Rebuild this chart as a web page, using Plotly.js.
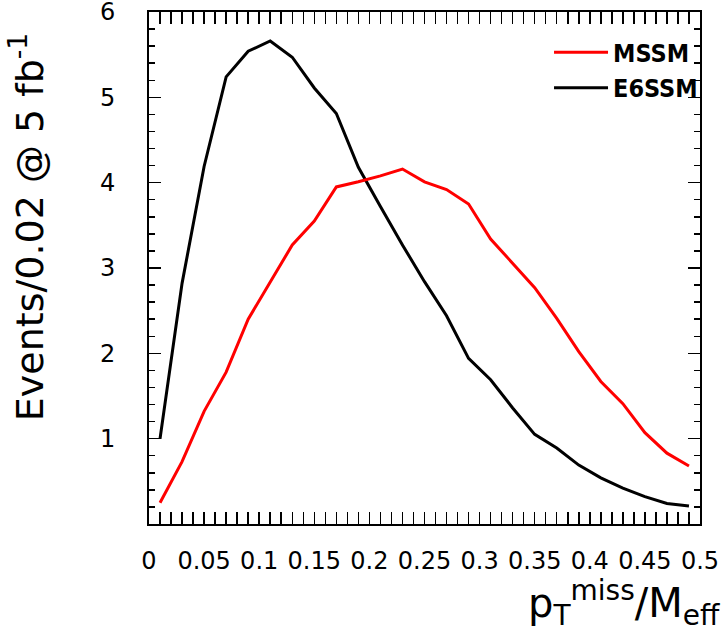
<!DOCTYPE html>
<html>
<head>
<meta charset="utf-8">
<script src="https://cdn.plot.ly/plotly-3.0.1.min.js"></script>
<style>html,body{margin:0;padding:0;background:#fff;}#chart{width:721px;height:631px;}</style>
</head>
<body>
<div id="chart"></div>
<script>
// Bin centres (p_T^miss / M_eff)
const binCentres = [0.01,0.03,0.05,0.07,0.09,0.11,0.13,0.15,0.17,0.19,0.21,0.23,0.25,
                    0.27,0.29,0.31,0.33,0.35,0.37,0.39,0.41,0.43,0.45,0.47,0.49];
const mssm  = [0.25,0.73,1.32,1.78,2.40,2.84,3.27,3.55,3.95,4.01,4.08,4.16,4.01,
               3.92,3.75,3.34,3.06,2.77,2.41,2.02,1.67,1.41,1.07,0.83,0.68];
const e6ssm = [1.00,2.82,4.19,5.24,5.54,5.66,5.47,5.11,4.81,4.18,3.72,3.27,2.84,
               2.44,1.94,1.69,1.36,1.05,0.89,0.69,0.54,0.42,0.32,0.24,0.21];
const seriesNames = ["MSSM","E6SSM"];
const yTickVals = [1,2,3,4,5,6];
const yTickText = ["1","2","3","4","5","6"];
const yRange = [0, 6];

const traces = [
  {x: binCentres, y: mssm, name: seriesNames[0], type: "scatter", mode: "lines",
   yaxis: "y2", line: {color: "#ff0000", width: 3}},
  {x: binCentres, y: e6ssm, name: seriesNames[1], type: "scatter", mode: "lines",
   line: {color: "#000000", width: 3}}
];

const tickFont = {family: "DejaVu Sans", size: 24, color: "#000"};
const axisCommon = {
  showgrid: false, zeroline: false, showline: true, linecolor: "#000", linewidth: 2,
  mirror: "allticks", ticks: "inside", ticklen: 12, tickwidth: 1.5, tickcolor: "#000",
  ticklabeloverflow: "allow", tickfont: tickFont
};

const layout = {
  width: 721, height: 631,
  margin: {l: 149, r: 21, t: 12, b: 107},
  paper_bgcolor: "#fff", plot_bgcolor: "#fff",
  font: {family: "DejaVu Sans", color: "#000"},
  showlegend: true,
  legend: {
    x: 0.726, y: 0.966, xanchor: "left", yanchor: "top", traceorder: "normal",
    bgcolor: "rgba(0,0,0,0)", borderwidth: 0, itemwidth: 54,
    font: {family: "Liberation Sans Narrow, DejaVu Sans Condensed, Liberation Sans", size: 25, weight: "bold", color: "#000"}
  },
  xaxis: Object.assign({}, axisCommon, {
    range: [0, 0.5], dtick: 0.05, tick0: 0, tickangle: 0, ticklabelstandoff: 14,
    minor: {dtick: 0.01, ticks: "inside", ticklen: 6, tickwidth: 1.5, tickcolor: "#000", showgrid: false}
  }),
  // frame axis: inside ticks, no labels
  yaxis: Object.assign({}, axisCommon, {
    range: yRange, tickmode: "array", tickvals: yTickVals, showticklabels: false,
    minor: {dtick: 0.2, tick0: 0, ticks: "inside", ticklen: 6, tickwidth: 1.5, tickcolor: "#000", showgrid: false}
  }),
  // same scale, carries the tick labels set away from the frame as in the reference
  yaxis2: {
    overlaying: "y", side: "left", anchor: "x", range: yRange,
    tickmode: "array", tickvals: yTickVals, ticktext: yTickText,
    ticks: "outside", ticklen: 28, tickcolor: "rgba(0,0,0,0)",
    showline: false, showgrid: false, zeroline: false,
    ticklabeloverflow: "allow", tickfont: tickFont
  },
  annotations: [
    {text: "Events/0.02 @ 5 fb<sup>-1</sup>", xref: "paper", yref: "paper",
     x: -0.222, y: 0.581, xanchor: "center", yanchor: "middle", textangle: -90,
     showarrow: false, font: {family: "DejaVu Sans", size: 38, color: "#000"}},
    {text: "p<sub>T</sub><sup>miss</sup>/M<sub>eff</sub>", xref: "paper", yref: "paper",
     x: 1.04, y: -0.154, xanchor: "right", yanchor: "middle",
     showarrow: false, font: {family: "DejaVu Sans", size: 40, color: "#000"}}
  ]
};

Plotly.newPlot("chart", traces, layout, {displayModeBar: false, staticPlot: true});
</script>
</body>
</html>
